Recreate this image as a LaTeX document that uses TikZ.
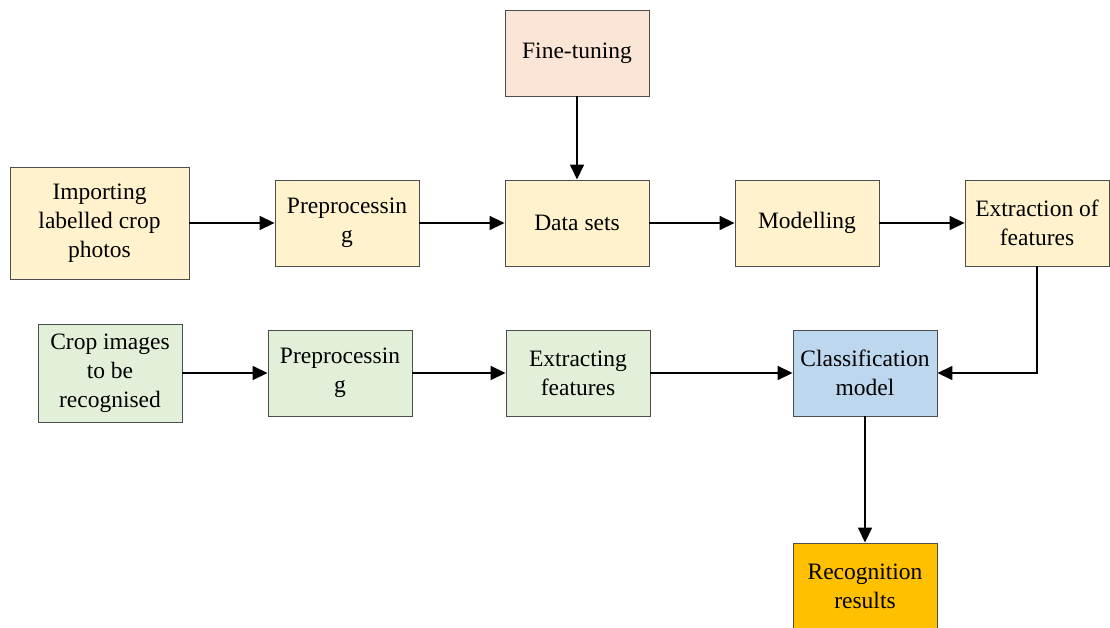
\documentclass[tikz,border=0pt]{standalone}
\usepackage{fontspec}
\setmainfont{Liberation Serif}
\usetikzlibrary{arrows.meta}
\definecolor{boxyellow}{HTML}{FFF2CC}
\definecolor{boxpink}{HTML}{FBE5D6}
\definecolor{boxgreen}{HTML}{E2F0D9}
\definecolor{boxblue}{HTML}{BDD7EE}
\definecolor{boxgold}{HTML}{FFC000}
\tikzset{
  stage/.style={draw=black!70,line width=0.9pt,minimum width=144pt,minimum height=86pt,
    inner sep=0pt,align=center,font=\fontsize{23.5}{29}\selectfont},
  flow/.style={line width=1.6pt,-{Triangle[length=15pt,width=14pt]}}
}
\begin{document}
\begin{tikzpicture}[x=1pt,y=-1pt]
\useasboundingbox (0,0) rectangle (1110,628);
% training branch
\node[stage,fill=boxpink] (tune) at (577,53) {Fine-tuning};
\node[stage,fill=boxyellow,minimum width=179pt,minimum height=112pt] (import) at (99.5,223) {Importing\\labelled crop\\photos};
\node[stage,fill=boxyellow] (prep1) at (347,223) {Preprocessin\\g};
\node[stage,fill=boxyellow] (data) at (577,223) {Data sets};
\node[stage,fill=boxyellow] (model) at (807,223) {Modelling};
\node[stage,fill=boxyellow] (extr1) at (1037,223) {Extraction of\\features};
% recognition branch
\node[stage,fill=boxgreen,minimum height=98pt] (crop) at (110,373) {Crop images\\to be\\recognised};
\node[stage,fill=boxgreen] (prep2) at (340,373) {Preprocessin\\g};
\node[stage,fill=boxgreen] (extr2) at (578,373) {Extracting\\features};
\node[stage,fill=boxblue] (clas) at (865,373) {Classification\\model};
\node[stage,fill=boxgold] (result) at (865,586) {Recognition\\results};
\foreach \a/\b in {import/prep1,prep1/data,data/model,model/extr1,tune/data,
  crop/prep2,prep2/extr2,extr2/clas,clas/result}
  \draw[flow] (\a) -- (\b);
\draw[flow] (extr1.south) |- (clas.east);
\end{tikzpicture}
\end{document}
